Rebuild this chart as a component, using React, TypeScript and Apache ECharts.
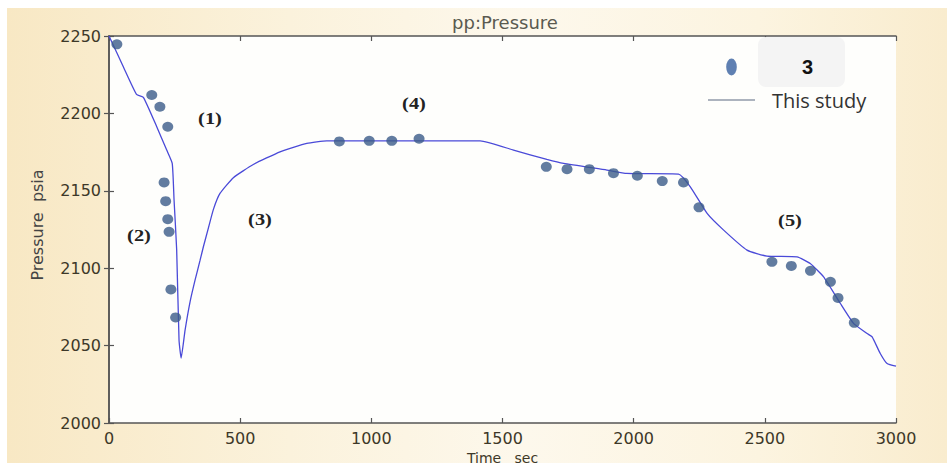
import React, { useEffect, useRef } from "react";
import * as echarts from "echarts";

const title = "pp:Pressure";
const xName = "Time   sec";
const yName = "Pressure  psia";
const measuredName = "3";
const modelName = "This study";

const measuredTime = [30, 163, 194, 224, 210, 216, 224, 229, 236, 254, 878, 992, 1078, 1182, 1667, 1746, 1831, 1923, 2014, 2109, 2190, 2249, 2527, 2601, 2674, 2750, 2779, 2841];
const measuredPressure = [2244.6, 2211.9, 2204.3, 2191.4, 2155.4, 2143.3, 2131.7, 2123.5, 2086.3, 2068.2, 2181.9, 2182.3, 2182.3, 2183.6, 2165.5, 2164, 2164, 2161.4, 2159.7, 2156.3, 2155.4, 2139.3, 2104.1, 2101.5, 2098.3, 2091.2, 2080.8, 2064.7];

const modelTime = [0, 55, 105, 131, 182, 220, 241, 248, 258, 267, 275, 290, 309, 328, 347, 360, 379, 398, 423, 474, 550, 652, 754, 830, 1415, 1542, 1669, 1733, 1898, 1974, 2171, 2216, 2280, 2343, 2432, 2508, 2623, 2673, 2724, 2788, 2839, 2890, 2909, 2940, 2966, 3000];
const modelPressure = [2250, 2230, 2212.3, 2210.4, 2191.4, 2176.3, 2167.7, 2144, 2111.7, 2053.5, 2042, 2060, 2078.3, 2092.3, 2105, 2114, 2126, 2138, 2148.3, 2158.5, 2167, 2175.2, 2180.6, 2182.3, 2182.3, 2176.3, 2170.3, 2167.7, 2163.4, 2161.2, 2160.8, 2152.6, 2135.4, 2124.6, 2111.7, 2107.8, 2107.3, 2103, 2094.4, 2077.2, 2064.2, 2057.8, 2055.6, 2044.9, 2038.4, 2036.7];

const regionLabels = ["(1)", "(2)", "(3)", "(4)", "(5)"];

export default function App() {
  const ref = useRef<HTMLDivElement>(null);
  useEffect(() => {
    if (!ref.current) return;
    const chart = echarts.init(ref.current, null, { renderer: "svg" });
    const tickLabel = { fontFamily: "DejaVu Sans", fontSize: 16, color: "#3d3828", formatter: (v: number) => String(v) };
    const axisLine = { show: true, lineStyle: { color: "#555", width: 1.5 } };
    const tick = { show: true, inside: true, length: 5, lineStyle: { color: "#555", width: 1.2 } };
    const labelPos: [number, number][] = [[210, 118], [139, 235], [260, 219], [414, 103], [790, 220]];
    chart.setOption({
      animation: false,
      backgroundColor: "transparent",
      title: {
        text: title,
        left: 500,
        top: 8,
        textAlign: "center",
        textStyle: { fontFamily: "DejaVu Sans", fontSize: 18, fontWeight: "normal", color: "#5a5a50" },
      },
      grid: {
        left: 109,
        top: 36,
        right: 56,
        bottom: 42,
        show: true,
        backgroundColor: "#fefefc",
        borderWidth: 0,
        containLabel: false,
        outerBoundsMode: "none",
      },
      legend: {
        orient: "vertical",
        left: 708,
        top: 57,
        padding: 0,
        itemWidth: 47,
        itemHeight: 17,
        itemGap: 13,
        data: [
          { name: measuredName, icon: "path://M5,0 A5,8 0 1,1 5,16 A5,8 0 1,1 5,0 Z", itemStyle: { color: "#37609f" } },
          { name: modelName, icon: "path://M0,0 H47 V1.2 H0 Z", itemStyle: { color: "#5a6880" } },
        ],
        formatter: (name: string) => (name === measuredName ? "{a|" + name + "}" : "{b|" + name + "}"),
        textStyle: {
          rich: {
            a: { fontFamily: "Liberation Sans", fontWeight: "bold", fontSize: 20, color: "#111", padding: [0, 0, 0, 42] },
            b: { fontFamily: "Open Sans", fontSize: 20, color: "#333", padding: [0, 0, 0, 12] },
          },
        },
      },
      xAxis: [
        {
          type: "value",
          min: 0,
          max: 3000,
          interval: 500,
          name: xName,
          nameLocation: "middle",
          nameGap: 22,
          nameTextStyle: { fontFamily: "DejaVu Sans", fontSize: 14, color: "#3d3828" },
          axisLine,
          axisTick: tick,
          axisLabel: { ...tickLabel, margin: 7 },
          splitLine: { show: false },
        },
        {
          type: "value",
          position: "top",
          min: 0,
          max: 3000,
          interval: 500,
          axisLine,
          axisTick: tick,
          axisLabel: { show: false },
          splitLine: { show: false },
        },
      ],
      yAxis: [
        {
          type: "value",
          min: 2000,
          max: 2250,
          interval: 50,
          name: yName,
          nameLocation: "middle",
          nameGap: 64,
          nameRotate: 90,
          nameTextStyle: { fontFamily: "DejaVu Sans", fontSize: 16, color: "#444", padding: [0, 0, 0, 9] },
          axisLine,
          axisTick: tick,
          axisLabel: { ...tickLabel, margin: 8 },
          splitLine: { show: false },
        },
        {
          type: "value",
          position: "right",
          min: 2000,
          max: 2250,
          interval: 50,
          axisLine,
          axisTick: tick,
          axisLabel: { show: false },
          splitLine: { show: false },
        },
      ],
      graphic: [
        { type: "rect", z: 1, shape: { x: 758, y: 37, width: 87, height: 50, r: 8 }, style: { fill: "#f4f4f4" } },
        ...regionLabels.map((t, i) => ({
          type: "text",
          z: 5,
          x: labelPos[i][0],
          y: labelPos[i][1],
          scaleX: 1.2,
          style: {
            text: t,
            fontFamily: "Liberation Serif",
            fontWeight: "bold",
            fontSize: 17,
            fill: "#222",
            align: "center",
            verticalAlign: "middle",
          },
        })),
      ],
      series: [
        {
          name: modelName,
          type: "line",
          data: modelTime.map((t, i) => [t, modelPressure[i]]),
          showSymbol: false,
          symbol: "none",
          smooth: 0.15,
          lineStyle: { color: "#4a4ad8", width: 1.3 },
          z: 2,
        },
        {
          name: measuredName,
          type: "scatter",
          data: measuredTime.map((t, i) => [t, measuredPressure[i]]),
          symbol: "circle",
          symbolSize: [11, 10],
          itemStyle: { color: "#3b5b88" },
          z: 3,
        },
      ],
    });
    return () => chart.dispose();
  }, []);
  return (
    <div style={{ position: "fixed", left: 0, top: 0, width: 952, height: 465, background: "#fff" }}>
      <div
        ref={ref}
        style={{
          width: 952,
          height: 465,
          background:
            "linear-gradient(90deg, #f8e8c4 0%, #fbf2dc 30%, #fdf8ec 55%, #fcf4e0 80%, #f9ecce 100%) 7px 8px / 940px 455px no-repeat, #ffffff",
        }}
      />
    </div>
  );
}
